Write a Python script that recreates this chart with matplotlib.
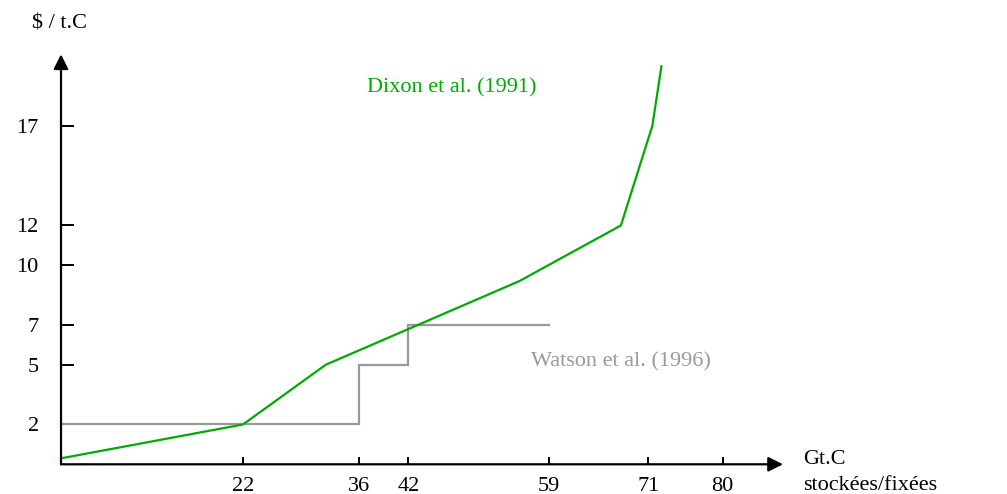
import matplotlib
matplotlib.use("Agg")
import matplotlib.pyplot as plt

# ---- data ----
dixon_x = [0, 22, 32, 55.4, 67.7, 71.5, 72.6]
dixon_y = [0.3, 2, 5, 9.2, 12, 17, 20]
watson_x = [0, 36, 36, 42, 42, 59]
watson_y = [2, 2, 5, 5, 7, 7]
xticks = [22, 36, 42, 59, 71, 80]
yticks = [2, 5, 7, 10, 12, 17]
ytick_labels = ["2", "5", "7", "10", "12", "17"]
xtick_labels = ["22", "36", "42", "59", "71", "80"]

GREEN = "#00aa00"
GRAY = "#999999"
FONT = "Liberation Serif"

W, H = 1007, 494
fig = plt.figure(figsize=(W / 100, H / 100), dpi=100)
XMAX, YMAX = 87.3, 20.6
x0, y0 = 61, 29.7
ax = fig.add_axes([x0 / W, y0 / H, 722 / W, 410 / H])
ax.set_xlim(0, XMAX)
ax.set_ylim(0, YMAX)
for s in ax.spines.values():
    s.set_visible(False)

ax.plot(watson_x, watson_y, color=GRAY, lw=1.6, solid_joinstyle="miter", zorder=2)
ax.plot(dixon_x, dixon_y, color=GREEN, lw=1.6, zorder=3)

# axes with arrows
ax.annotate("", xy=(0, YMAX), xytext=(0, 0),
            arrowprops=dict(arrowstyle="-|>", color="black", lw=1.6,
                            mutation_scale=22, shrinkA=0, shrinkB=0),
            annotation_clip=False)
ax.annotate("", xy=(XMAX, 0), xytext=(0, 0),
            arrowprops=dict(arrowstyle="-|>", color="black", lw=1.6,
                            mutation_scale=22, shrinkA=0, shrinkB=0),
            annotation_clip=False)

ax.set_xticks(xticks)
ax.set_xticklabels(xtick_labels)
ax.set_yticks(yticks)
ax.set_yticklabels(ytick_labels)
ax.tick_params(axis="x", direction="in", length=5, width=1.4, pad=9,
               labelsize=16, colors="black")
ax.tick_params(axis="y", direction="in", length=9, width=1.4, pad=16,
               labelsize=16, colors="black")
for lab in ax.get_xticklabels() + ax.get_yticklabels():
    lab.set_family(FONT)

fig.text(59 / W, 1 - 24 / H, "$ / t.C", ha="center", va="center",
         fontsize=16, family=FONT)
fig.text(367 / W, 1 - 88 / H, "Dixon et al. (1991)", ha="left", va="center",
         fontsize=16, family=FONT, color=GREEN)
fig.text(531 / W, 1 - 362 / H, "Watson et al. (1996)", ha="left", va="center",
         fontsize=16, family=FONT, color=GRAY)
fig.text(803 / W, 1 - 459 / H, "Gt.C", ha="left", va="center",
         fontsize=16, family=FONT)
fig.text(803 / W, 1 - 485 / H, "stockées/fixées", ha="left", va="center",
         fontsize=16, family=FONT)

fig.savefig("out.png", dpi=100)
